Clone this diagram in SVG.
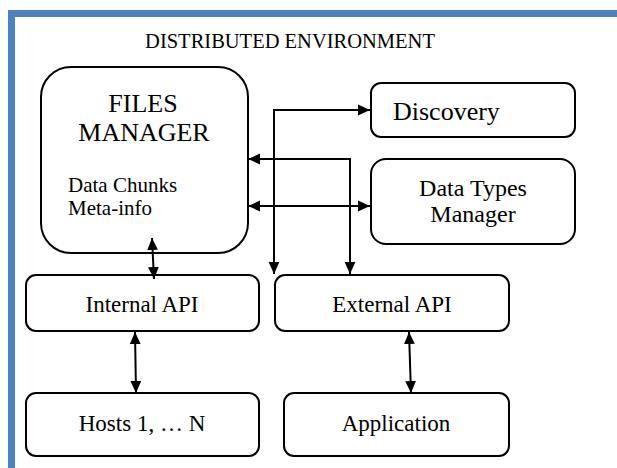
<svg xmlns="http://www.w3.org/2000/svg" width="617" height="468" viewBox="0 0 617 468">
<style>
.box{fill:#fff;stroke:#000;stroke-width:2}
.c{stroke:#000;stroke-width:2;fill:none}
</style>
<defs>
<marker id="ah" viewBox="0 0 10 10" refX="10" refY="5" markerWidth="6" markerHeight="6" orient="auto-start-reverse" markerUnits="strokeWidth">
<path d="M0,0.5 L10,5 L0,9.5 Z" fill="#000"/>
</marker>
</defs>
<rect x="0" y="0" width="617" height="468" fill="#fff"/>
<path d="M11.5,468 V13.5 H617" fill="none" stroke="#4f81bd" stroke-width="7"/>
<text x="290" y="48" font-size="20.5" font-family="Liberation Serif" text-anchor="middle">DISTRIBUTED ENVIRONMENT</text>
<g id="files-manager">
<rect class="box" x="41" y="67" width="207" height="186" rx="30"/>
<text x="143" y="112" font-size="26" font-family="Liberation Serif" text-anchor="middle">FILES</text>
<text x="144" y="141" font-size="26" font-family="Liberation Serif" text-anchor="middle">MANAGER</text>
<text x="68" y="192" font-size="21" font-family="Liberation Serif">Data Chunks</text>
<text x="68" y="215" font-size="21" font-family="Liberation Serif">Meta-info</text>
</g>
<g id="discovery">
<rect class="box" x="371" y="83" width="204" height="54" rx="10"/>
<text x="393" y="120" font-size="26" font-family="Liberation Serif">Discovery</text>
</g>
<g id="data-types-manager">
<rect class="box" x="371" y="159" width="204" height="85" rx="15"/>
<text x="473" y="196" font-size="24" font-family="Liberation Serif" text-anchor="middle">Data Types</text>
<text x="473" y="222" font-size="24" font-family="Liberation Serif" text-anchor="middle">Manager</text>
</g>
<g id="internal-api">
<rect class="box" x="26" y="275" width="233" height="56" rx="10"/>
<text x="142" y="312" font-size="23" font-family="Liberation Serif" text-anchor="middle">Internal API</text>
</g>
<g id="external-api">
<rect class="box" x="275" y="275" width="234" height="56" rx="10"/>
<text x="392" y="312" font-size="23" font-family="Liberation Serif" text-anchor="middle">External API</text>
</g>
<g id="hosts">
<rect class="box" x="26" y="393" width="233" height="63" rx="10"/>
<text x="142" y="431" font-size="23" font-family="Liberation Serif" text-anchor="middle">Hosts 1, … N</text>
</g>
<g id="application">
<rect class="box" x="284" y="393" width="225" height="63" rx="10"/>
<text x="396" y="431" font-size="23" font-family="Liberation Serif" text-anchor="middle">Application</text>
</g>
<g id="connectors">
<path class="c" d="M274,274 V110 H370" marker-start="url(#ah)" marker-end="url(#ah)"/>
<path class="c" d="M350,274 V159 H248" marker-start="url(#ah)" marker-end="url(#ah)"/>
<path class="c" d="M248,206 H370" marker-start="url(#ah)" marker-end="url(#ah)"/>
<path class="c" d="M152,238 L154,279" marker-start="url(#ah)" marker-end="url(#ah)"/>
<path class="c" d="M135,332 L136,393" marker-start="url(#ah)" marker-end="url(#ah)"/>
<path class="c" d="M409,332 L411,393" marker-start="url(#ah)" marker-end="url(#ah)"/>
</g>
</svg>
